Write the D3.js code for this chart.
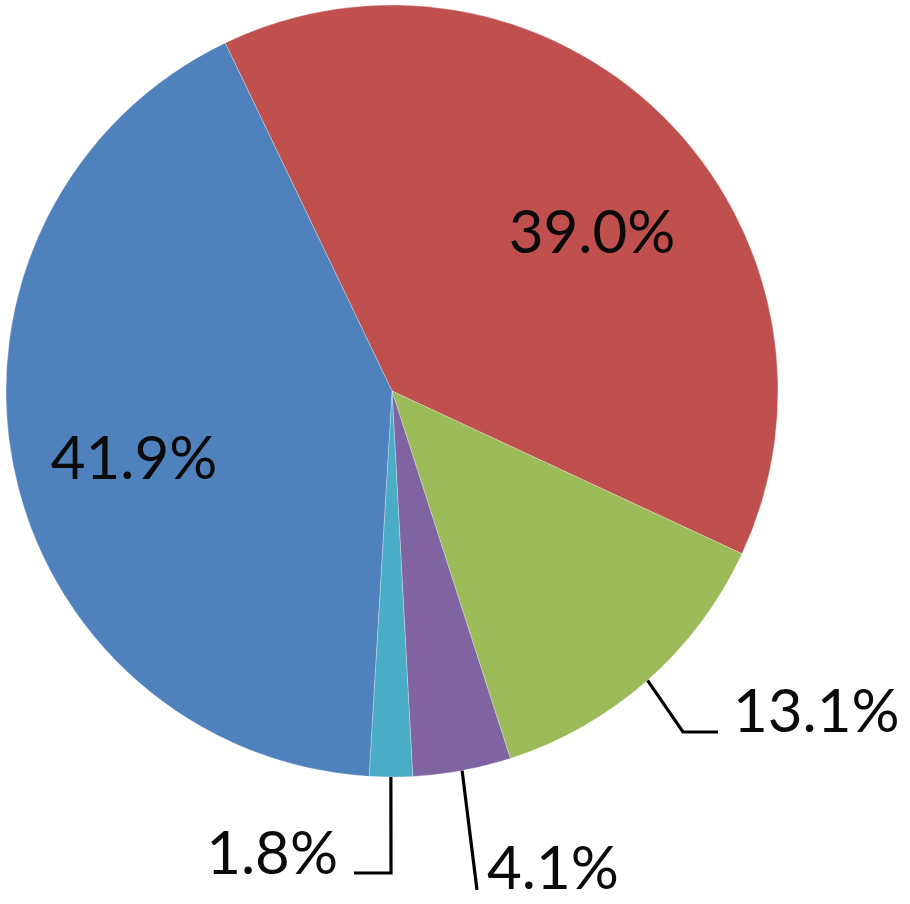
<!DOCTYPE html>
<html>
<head>
<meta charset="utf-8">
<script src="https://cdn.jsdelivr.net/npm/d3@7"></script>
<style>
  html, body { margin: 0; padding: 0; background: #fff; }
  svg { display: block; }
</style>
</head>
<body>
<svg id="chart" width="910" height="904"></svg>
<script>
// ---- Data ----
const categories = ["A", "B", "C", "D", "E"];
const values = [39.0, 13.1, 4.1, 1.8, 41.9];
const labels = ["39.0%", "13.1%", "4.1%", "1.8%", "41.9%"];
const colors = ["#C0504D", "#9BBB59", "#8064A2", "#4BACC6", "#4F81BD"];

// ---- Layout ----
const cx = 392, cy = 391, R = 386;
const startDeg = -25.6;
// label placement per slice (layout only)
const labelLayout = [
  { mode: "inside", x: 592, y: 253, anchor: "middle" },
  { mode: "leader", elbow: [683, 732], end: [718, 732], x: 733, y: 732, anchor: "start" },
  { mode: "leader", elbow: null, end: [477, 890], x: 487, y: 889, anchor: "start" },
  { mode: "leader", elbow: [391, 873], end: [354, 873], x: 338, y: 874, anchor: "end" },
  { mode: "inside", x: 134, y: 479, anchor: "middle" }
];

const svg = d3.select("#chart");
const g = svg.append("g").attr("transform", `translate(${cx},${cy})`);

const pie = d3.pie().sort(null).value(d => d.v)
  .startAngle(startDeg * Math.PI / 180)
  .endAngle(startDeg * Math.PI / 180 + 2 * Math.PI);
const data = categories.map((c, i) => ({ c, v: values[i], label: labels[i], color: colors[i], lay: labelLayout[i] }));
const arcs = pie(data);
const arc = d3.arc().innerRadius(0).outerRadius(R);

g.selectAll("path.slice").data(arcs).enter().append("path")
  .attr("class", "slice")
  .attr("d", arc)
  .attr("fill", d => d.data.color)
  .attr("stroke", "rgba(255,255,255,0.35)")
  .attr("stroke-width", 0.8);

// leader lines
arcs.forEach(a => {
  const lay = a.data.lay;
  if (lay.mode !== "leader") return;
  const mid = (a.startAngle + a.endAngle) / 2;
  const sx = cx + R * Math.sin(mid), sy = cy - R * Math.cos(mid);
  const pts = [[sx, sy]];
  if (lay.elbow) pts.push(lay.elbow);
  pts.push(lay.end);
  svg.append("path")
    .attr("d", d3.line()(pts))
    .attr("fill", "none")
    .attr("stroke", "#000")
    .attr("stroke-width", 3.2);
});

// labels
svg.selectAll("text.lbl").data(arcs).enter().append("text")
  .attr("class", "lbl")
  .attr("x", d => d.data.lay.x)
  .attr("y", d => d.data.lay.y)
  .attr("text-anchor", d => d.data.lay.anchor)
  .attr("font-family", "Lato, 'Open Sans', sans-serif")
  .attr("font-size", 60)
  .attr("fill", "#0a0a0a")
  .text(d => d.data.label);
</script>
</body>
</html>
